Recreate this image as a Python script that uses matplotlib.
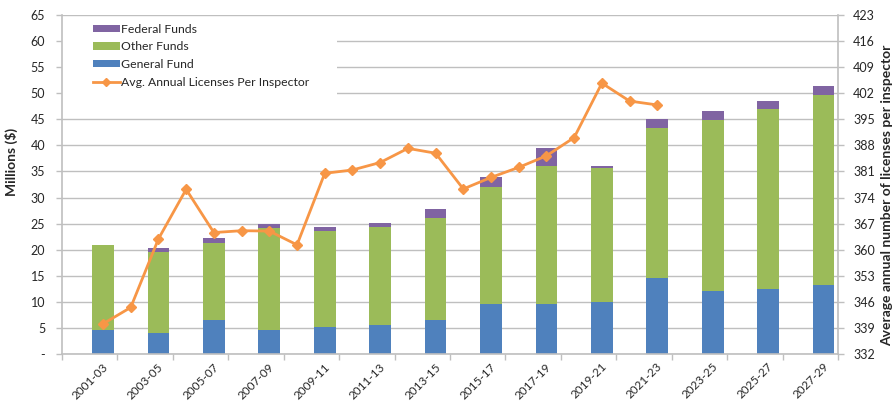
import numpy as np
import matplotlib
matplotlib.use("Agg")
import matplotlib.pyplot as plt
from matplotlib.patches import Rectangle, Patch
from matplotlib.lines import Line2D
import matplotlib.transforms as mtransforms

plt.rcParams['font.family'] = ['Lato', 'DejaVu Sans']

# ---- data ----
categories = ["2001-03", "2003-05", "2005-07", "2007-09", "2009-11", "2011-13", "2013-15",
              "2015-17", "2017-19", "2019-21", "2021-23", "2023-25", "2025-27", "2027-29"]
general_fund = [4.6, 3.95, 6.5, 4.6, 5.25, 5.55, 6.5, 9.5, 9.6, 10.0, 14.6, 12.1, 12.45, 13.15]
other_funds = [16.3, 15.65, 14.7, 19.5, 18.4, 18.75, 19.5, 22.6, 26.45, 25.6, 28.8, 32.8, 34.6, 36.55]
federal_funds = [0.0, 0.8, 1.0, 0.8, 0.65, 0.9, 1.75, 1.8, 3.4, 0.45, 1.6, 1.6, 1.55, 1.6]
licenses_per_inspector = [340.1, 344.5, 362.9, 376.2, 364.6, 365.1, 365.0, 361.3, 380.5, 381.4,
                          383.4, 387.2, 385.9, 376.3, 379.4, 382.1, 385.2, 390.1, 404.7, 399.9, 398.85]
left_ticks = list(range(0, 66, 5))
left_ticklabels = ["-"] + [str(v) for v in left_ticks[1:]]
right_ticks = list(range(332, 424, 7))

# ---- colors ----
c_blue = "#4F81BD"
c_green = "#9BBB59"
c_purple = "#8064A2"
c_orange = "#F79646"
c_grid = "#BFBFBF"
c_text = "#262626"

W, H = 893, 404
fig = plt.figure(figsize=(W / 100, H / 100), dpi=100)
L, R, T, B = 62, 838, 15, 354
ax = fig.add_axes([L / W, 1 - B / H, (R - L) / W, (B - T) / H])

x = np.arange(len(categories))
bw = 0.39
gf = np.array(general_fund)
of = np.array(other_funds)
ff = np.array(federal_funds)
ax.bar(x, gf, bw, color=c_blue, zorder=2)
ax.bar(x, of, bw, bottom=gf, color=c_green, zorder=2)
ax.bar(x, ff, bw, bottom=gf + of, color=c_purple, zorder=2)

ax.set_xlim(-0.26, len(categories) - 1 + 0.26)
ax.set_ylim(0, 65)
ax.set_yticks(left_ticks)
ax.set_yticklabels(left_ticklabels)
ax.yaxis.grid(True, color=c_grid, lw=1.0, zorder=0)
ax.set_axisbelow(True)

ax.set_xticks(x)
ax.set_xticks(np.arange(-1, len(categories)) + 0.26, minor=True)
ax.set_xticklabels(categories)
ax.tick_params(axis='x', which='major', length=0, pad=9, labelsize=8.5, labelcolor=c_text)
ax.tick_params(axis='x', which='minor', length=4, color=c_grid, width=1)
ax.tick_params(axis='y', length=4, color=c_grid, width=1, labelsize=9, labelcolor=c_text, pad=8)
plt.setp(ax.get_xticklabels(), rotation=45, ha='right', va='top', rotation_mode='anchor')

for s in ['top', 'right']:
    ax.spines[s].set_visible(False)
for s in ['left', 'bottom']:
    ax.spines[s].set_color(c_grid)
    ax.spines[s].set_linewidth(1.2)

ax.set_ylabel("Millions ($)", fontsize=10, fontweight='bold', color=c_text)
ax.yaxis.set_label_coords((18 - L) / (R - L), (B - 162) / (B - T))

# white area behind legend
ax.add_patch(Rectangle((0, (B - 105) / (B - T)), (337 - L) / (R - L), (105 - 17) / (B - T),
                       transform=ax.transAxes, facecolor='white', edgecolor='none', zorder=1))

ax2 = ax.twinx()
ax2.set_ylim(332, 423)
ax2.set_yticks(right_ticks)
xl = np.arange(len(licenses_per_inspector)) * 0.5
ax2.plot(xl, licenses_per_inspector, color=c_orange, lw=2.0, marker='D', markersize=5.5,
         markeredgecolor=c_orange, zorder=3)
for s in ['top', 'left', 'bottom']:
    ax2.spines[s].set_visible(False)
ax2.spines['right'].set_color(c_grid)
ax2.spines['right'].set_linewidth(1.2)
ax2.tick_params(axis='y', length=4, color=c_grid, width=1, labelsize=9, labelcolor=c_text, pad=7)
ax2.set_ylabel("Average annual number of licenses per inspector", fontsize=10,
               fontweight='bold', color=c_text, rotation=90)
ax2.yaxis.set_label_position('right')
ax2.yaxis.set_label_coords((881 - L) / (R - L), (B - 195) / (B - T))

handles = [Patch(facecolor=c_purple, label="Federal Funds"),
           Patch(facecolor=c_green, label="Other Funds"),
           Patch(facecolor=c_blue, label="General Fund"),
           Line2D([], [], color=c_orange, lw=2, marker='D', markersize=4.5,
                  label="Avg. Annual Licenses Per Inspector")]
leg = ax2.legend(handles=handles, loc='upper left',
                 bbox_to_anchor=((89 - L) / (R - L), (B - 20) / (B - T)),
                 frameon=False, fontsize=8.8, handlelength=2.2, handleheight=0.55,
                 handletextpad=0.15, labelspacing=0.55, borderpad=0.3, borderaxespad=0)
for t in leg.get_texts():
    t.set_color(c_text)

# place rotated x labels so their upper-right end sits just right of the bar centre
fig.canvas.draw()
for xi, lab in zip(x, ax.get_xticklabels()):
    bb = lab.get_window_extent()
    cx = ax.transData.transform((xi, 0))[0]
    dx = (cx + 7) - bb.x1
    dy = (H - 361) - bb.y1
    lab.set_transform(lab.get_transform() + mtransforms.Affine2D().translate(dx, dy))

fig.savefig("out.png", dpi=100, facecolor='white')
